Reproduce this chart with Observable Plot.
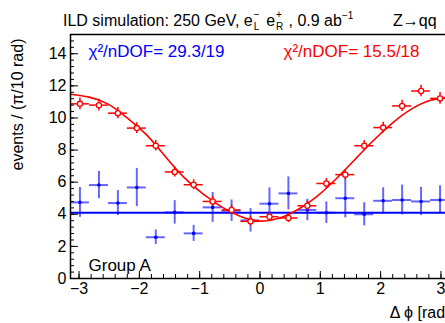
<!DOCTYPE html>
<html><head><meta charset="utf-8">
<script src="https://cdn.jsdelivr.net/npm/d3@7"></script>
<script src="https://cdn.jsdelivr.net/npm/@observablehq/plot@0.6"></script>
<style>
body{margin:0;background:#fff;font-family:"Liberation Sans",Arial,sans-serif;}
#wrap{position:relative;width:445px;height:323px;overflow:hidden;}
#title,#proc{position:absolute;top:13px;font-size:16px;line-height:16px;white-space:nowrap;color:#000;}
#title{left:63px;}
#proc{left:393px;}
.ss{display:inline-block;position:relative;width:9px;height:0;}
.ss span{position:absolute;left:1px;font-size:10px;line-height:10px;}
.ss .sup{top:-16px;}
.ss .sub{top:-4px;}
.sp{position:relative;top:-7px;font-size:10px;line-height:10px;}
</style></head>
<body><div id="wrap">
<div id="title">ILD simulation: 250 GeV, e<span class="ss"><span class="sup">−</span><span class="sub">L</span></span> e<span class="ss"><span class="sup">+</span><span class="sub">R</span></span> , 0.9 ab<span class="sp">−1</span></div>
<div id="proc">Z→qq</div>
</div>
<script>
// bin centres of Δφ (20 bins of π/10)
const binCenters = [-2.985,-2.670,-2.356,-2.042,-1.728,-1.414,-1.100,-0.785,-0.471,-0.157,
                     0.157, 0.471, 0.785, 1.100, 1.414, 1.728, 2.042, 2.356, 2.670, 2.985];
const binHalfWidth = 0.157;
// blue series (flat) values and errors
const blueValues = [4.74,5.82,4.70,5.67,2.57,4.12,2.81,4.43,4.22,3.62,4.66,5.30,4.27,4.10,5.00,4.00,4.84,4.89,4.80,4.89];
const blueErrors = [0.93,0.85,0.78,1.19,0.45,0.73,0.50,0.93,0.67,0.73,0.98,1.03,0.67,0.67,1.22,0.72,0.81,0.93,0.88,0.88];
const blueFit = 4.1;
// red series values and errors
const redValues = [10.88,10.80,10.30,9.37,8.27,6.64,5.84,4.80,4.27,3.56,3.85,3.77,4.53,5.92,6.47,8.27,9.40,10.75,11.68,11.22];
const redErrors = [0.36,0.36,0.35,0.34,0.33,0.32,0.31,0.30,0.30,0.29,0.29,0.29,0.30,0.31,0.32,0.33,0.34,0.35,0.36,0.36];
// red fit curve
const redFitX = [-3.1416,-2.83,-2.51,-2.2,-1.88,-1.57,-1.26,-0.94,-0.63,-0.31,0.0,0.31,0.63,0.94,1.26,1.57,1.88,2.2,2.51,2.83,3.1416];
const redFitY = [11.48,11.3,10.85,10.0,8.95,7.6,6.3,5.25,4.45,3.85,3.58,3.75,4.3,5.1,6.2,7.4,8.6,9.7,10.55,11.1,11.3];
// ticks
const xTicks = [-3,-2,-1,0,1,2,3];
const yTicks = [0,2,4,6,8,10,12,14];
const xMinor = d3.range(-3.0, 3.01, 0.2);
const yMinor = d3.range(0, 15.2, 0.4);

const blue = binCenters.map((x,i)=>({x, y: blueValues[i], e: blueErrors[i]}));
const red = binCenters.map((x,i)=>({x, y: redValues[i], e: redErrors[i]}));
const fit = redFitX.map((x,i)=>({x, y: redFitY[i]}));

const BLUE = "#0000ff", RED = "#ff0000";
const fw = 379, fh = 244;
const intFmt = d3.format("d");

const plot = Plot.plot({
  width: 445, height: 323,
  marginLeft: 70, marginRight: -4, marginTop: 34, marginBottom: 45,
  x: {domain: [-Math.PI, Math.PI]},
  y: {domain: [0, 15.2]},
  style: {fontFamily: "Liberation Sans, Arial, sans-serif", fontSize: "16px", background: "transparent", color: "black", overflow: "visible"},
  marks: [
    Plot.ruleY([blueFit], {stroke: BLUE, strokeWidth: 2}),
    Plot.ruleX(blue, {x: "x", y1: d => d.y - d.e, y2: d => d.y + d.e, stroke: BLUE, strokeOpacity: 0.6, strokeWidth: 2}),
    Plot.ruleY(blue, {y: "y", x1: d => d.x - binHalfWidth, x2: d => d.x + binHalfWidth, stroke: BLUE, strokeOpacity: 0.6, strokeWidth: 2}),
    Plot.dot(blue, {x: "x", y: "y", r: 1.8, fill: BLUE}),
    Plot.line(fit, {x: "x", y: "y", curve: "natural", stroke: RED, strokeWidth: 1.6}),
    Plot.ruleX(red, {x: "x", y1: d => d.y - d.e, y2: d => d.y + d.e, stroke: RED, strokeWidth: 1.5}),
    Plot.ruleY(red, {y: "y", x1: d => d.x - binHalfWidth, x2: d => d.x + binHalfWidth, stroke: RED, strokeWidth: 1.5}),
    Plot.dot(red, {x: "x", y: "y", r: 2.6, stroke: RED, fill: "white", strokeWidth: 1.3}),
    Plot.tickX(xMinor, {x: d => d, insetTop: fh - 4, stroke: "black"}),
    Plot.tickX(xTicks, {x: d => d, insetTop: fh - 7, stroke: "black"}),
    Plot.tickY(yMinor, {y: d => d, insetRight: fw - 4, stroke: "black"}),
    Plot.tickY(yTicks, {y: d => d, insetRight: fw - 8, stroke: "black"}),
    Plot.axisX({ticks: xTicks, tickFormat: intFmt, tickSize: 0, tickPadding: 4, label: null, fontSize: 16}),
    Plot.axisY({ticks: yTicks, tickFormat: intFmt, tickSize: 0, tickPadding: 4, label: null, fontSize: 16}),
    Plot.frame({stroke: "black", strokeWidth: 1.5}),
    Plot.text(["χ²/nDOF= 29.3/19"], {text: d => d, frameAnchor: "top-left", dx: 18, dy: 22, textAnchor: "start", lineAnchor: "bottom", fill: BLUE, fontSize: 17}),
    Plot.text(["χ²/nDOF= 15.5/18"], {text: d => d, frameAnchor: "top-left", dx: 213, dy: 22, textAnchor: "start", lineAnchor: "bottom", fill: RED, fontSize: 17}),
    Plot.text(["Group A"], {text: d => d, frameAnchor: "bottom-left", dx: 18, dy: -8, textAnchor: "start", lineAnchor: "bottom", fill: "black", fontSize: 17}),
    Plot.text(["events / (π/10 rad)"], {text: d => d, frameAnchor: "top-left", dx: -48, dy: 4, rotate: -90, textAnchor: "end", lineAnchor: "bottom", fill: "black", fontSize: 16}),
    Plot.text(["Δ ϕ [rad]"], {text: d => d, frameAnchor: "bottom-right", dy: 39, textAnchor: "end", lineAnchor: "bottom", fill: "black", fontSize: 16})
  ]
});
plot.style.position = "absolute";
plot.style.left = "0";
plot.style.top = "0";
document.getElementById("wrap").prepend(plot);
</script>
</body></html>
